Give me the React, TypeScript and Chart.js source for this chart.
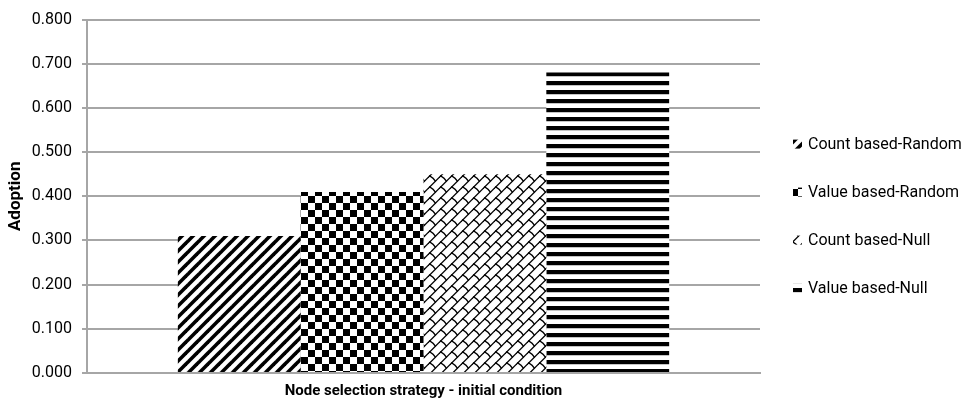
import React, { useEffect, useRef } from 'react';
import { Chart, registerables } from 'chart.js';

Chart.register(...registerables);

// Data
const categories = [''];
const seriesNames = ['Count based-Random', 'Value based-Random', 'Count based-Null', 'Value based-Null'];
const adoption = [0.31, 0.41, 0.45, 0.68];
const yMin = 0;
const yMax = 0.8;
const yStep = 0.1;
const xTitle = 'Node selection strategy - initial condition';
const yTitle = 'Adoption';

const GRID = '#a6a6a6';
const FONT = 'Roboto';

type Painter = (g: CanvasRenderingContext2D, size: number) => void;

function makePattern(ctx: CanvasRenderingContext2D, size: number, paint: Painter): CanvasPattern {
  const tile = document.createElement('canvas');
  tile.width = size;
  tile.height = size;
  const g = tile.getContext('2d')!;
  g.fillStyle = '#fff';
  g.fillRect(0, 0, size, size);
  paint(g, size);
  return ctx.createPattern(tile, 'repeat')!;
}

// wide upward diagonal stripes
const diagonal: Painter = (g, s) => {
  g.strokeStyle = '#000';
  g.lineWidth = 3.6;
  for (const off of [-s, 0, s]) {
    g.beginPath();
    g.moveTo(off - 2, s + 2);
    g.lineTo(off + s + 2, -2);
    g.stroke();
  }
};

// large checkerboard
const checker: Painter = (g, s) => {
  const h = s / 2;
  g.fillStyle = '#000';
  g.fillRect(0, 0, h, h);
  g.fillRect(h, h, h, h);
};

// shingle: thin upward diagonals with a short hook hanging between neighbours
const shingle: Painter = (g, s) => {
  const k = s / 8;
  g.strokeStyle = '#000';
  g.lineWidth = 1.3;
  g.lineCap = 'square';
  for (const dx of [-s, 0, s]) {
    for (const dy of [-s, 0, s]) {
      g.beginPath();
      g.moveTo(dx + 0.5 * k, dy + 8 * k);
      g.lineTo(dx + 8.5 * k, dy + 0);
      g.stroke();
      g.beginPath();
      g.moveTo(dx + 1 * k, dy + 0.3 * k);
      g.quadraticCurveTo(dx + 3 * k, dy + 1.2 * k, dx + 4.5 * k, dy + 3.6 * k);
      g.stroke();
    }
  }
};

// dark horizontal stripes
const horizontal: Painter = (g, s) => {
  g.fillStyle = '#000';
  g.fillRect(0, 0, s, 4);
  g.fillStyle = '#c4c4c4';
  g.fillRect(0, 4, s, 1);
};

const sideLegend = {
  id: 'sideLegend',
  afterDraw(chart: any) {
    const { ctx, chartArea } = chart;
    ctx.save();
    ctx.font = `16px ${FONT}`;
    ctx.textBaseline = 'middle';
    ctx.textAlign = 'left';
    chart.data.datasets.forEach((ds: any, i: number) => {
      const y = chartArea.top + 125 + i * 48;
      const x = chartArea.right + 33;
      ctx.fillStyle = ds.backgroundColor;
      ctx.fillRect(x, y - 5, 9, 9);
      ctx.fillStyle = '#000';
      ctx.fillText(ds.label, x + 15, y);
    });
    ctx.restore();
  },
};

export default function App() {
  const ref = useRef<HTMLCanvasElement>(null);

  useEffect(() => {
    const canvas = ref.current!;
    const ctx = canvas.getContext('2d')!;
    const fills = [
      makePattern(ctx, 11, diagonal),
      makePattern(ctx, 14, checker),
      makePattern(ctx, 11, shingle),
      makePattern(ctx, 9, horizontal),
    ];

    const chart = new Chart(ctx, {
      type: 'bar',
      data: {
        labels: categories,
        datasets: seriesNames.map((name, i) => ({
          label: name,
          data: [adoption[i]],
          backgroundColor: fills[i] as any,
          borderWidth: 0,
          categoryPercentage: 0.73,
          barPercentage: 1,
        })),
      },
      options: {
        animation: false,
        responsive: true,
        maintainAspectRatio: false,
        layout: { padding: { left: 0, top: 18, right: 201, bottom: 0 } },
        plugins: {
          legend: { display: false },
          tooltip: { enabled: false },
        },
        scales: {
          x: {
            type: 'category',
            grid: { display: false },
            border: { display: true, color: GRID, width: 2 },
            ticks: { display: false },
            title: {
              display: true,
              text: xTitle,
              color: '#000',
              font: { family: FONT, size: 15, weight: 'bold' },
              padding: { top: 0, bottom: 3 },
            },
            afterFit: (scale: any) => {
              scale.height = 30;
            },
          },
          y: {
            min: yMin,
            max: yMax,
            ticks: {
              stepSize: yStep,
              color: '#000',
              padding: 10,
              font: { family: FONT, size: 16 },
              callback: (v: any) => Number(v).toFixed(3),
            },
            grid: { color: GRID, lineWidth: 2, tickLength: 5, drawTicks: true },
            border: { display: true, color: GRID, width: 2 },
            title: {
              display: true,
              text: yTitle,
              color: '#000',
              font: { family: FONT, size: 17, weight: 'bold' },
              padding: { top: 6, bottom: 0 },
            },
            afterFit: (scale: any) => {
              scale.width = 87;
            },
          },
        },
      },
      plugins: [sideLegend],
    });

    return () => chart.destroy();
  }, []);

  return (
    <div style={{ position: 'fixed', left: 0, top: 0, width: 961, height: 403 }}>
      <canvas ref={ref} />
    </div>
  );
}
